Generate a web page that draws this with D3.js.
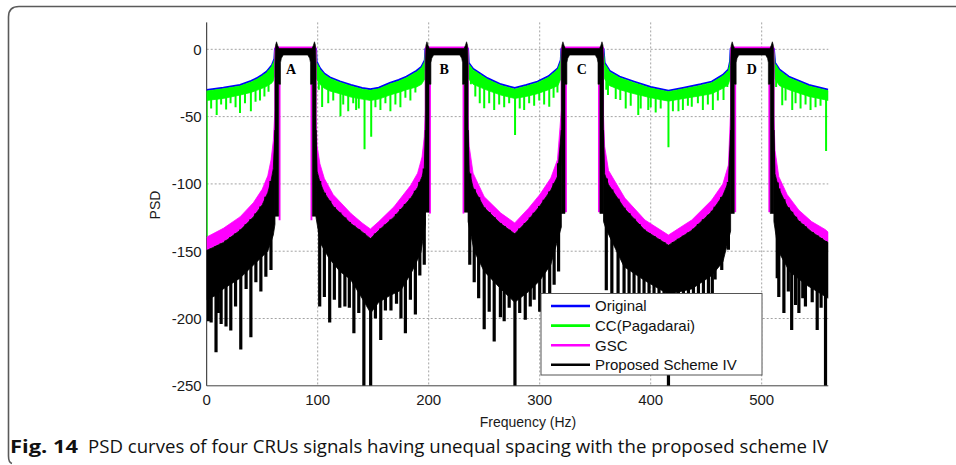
<!DOCTYPE html>
<html><head><meta charset="utf-8">
<script src="https://cdn.jsdelivr.net/npm/d3@7"></script>
<style>body{margin:0;background:#fff}svg{display:block}</style>
</head><body><svg id="c" width="956" height="465"></svg>
<script>
// ---------------- DATA ----------------
const xTicks=[0,100,200,300,400,500];
const yTicks=[0,-50,-100,-150,-200,-250];
const seriesNames=["Original","CC(Pagadarai)","GSC","Proposed Scheme IV"];
const bandLabels=["A","B","C","D"];
const bandLow=[61.5,197,319.5,472];
const bandHigh=[98.5,235.5,357.5,511];
const labelFreq=[76,214,338,491];
// Original (blue) upper envelope [Hz, dB]
const origEnv=[[0,-30.2],[15,-28.5],[30,-26.5],[40,-23.5],[45,-21.5],[50,-19],[54,-16.6],[58.8,-11.7],[61,-7],[61.5,0],[98.5,0],[99,-9],[102,-14],[106,-18],[111,-20.8],[120,-23.8],[130,-26.5],[140,-28.8],[147.5,-29.7],[155,-28.5],[165,-25],[173,-22.8],[180,-20.3],[189,-16],[193.5,-13],[196.5,-8],[197,0],[235.5,0],[236,-10],[240,-14.5],[253,-21.5],[265,-26],[277.5,-28.8],[288,-26.5],[298,-24],[308,-20],[316.4,-14],[319,-8],[319.5,0],[357.5,0],[358.5,-10],[363,-16],[372,-20.3],[385,-24],[400,-28],[416,-30.7],[430,-28.5],[445,-26],[455,-24],[465,-19],[470,-15],[471.5,-9],[472,0],[511,0],[512,-10],[516,-15],[524.4,-20.3],[542.5,-26.5],[560,-30]];
// CC (green) dense band: upper and lower edges, plus spikes
const ccUpper=[[0,-31],[15,-29.3],[30,-27.3],[40,-24.3],[45,-22.3],[50,-19.8],[54,-17.4],[58.8,-12.5],[61,-7.8],[61.5,-1],[98.5,-1],[99,-9.8],[102,-14.8],[106,-18.8],[111,-21.6],[120,-24.6],[130,-27.3],[140,-29.6],[147.5,-30.5],[155,-29.3],[165,-25.8],[173,-23.6],[180,-21.1],[189,-16.8],[193.5,-13.8],[196.5,-8.8],[197,-1],[235.5,-1],[236,-10.8],[240,-15.3],[253,-22.3],[265,-26.8],[277.5,-29.6],[288,-27.3],[298,-24.8],[308,-20.8],[316.4,-14.8],[319,-8.8],[319.5,-1],[357.5,-1],[358.5,-10.8],[363,-16.8],[372,-21.1],[385,-24.8],[400,-28.8],[416,-31.5],[430,-29.3],[445,-26.8],[455,-24.8],[465,-19.8],[470,-15.8],[471.5,-9.8],[472,-1],[511,-1],[512,-10.8],[516,-15.8],[524.4,-21.1],[542.5,-27.3],[560,-30.8]];
const ccLower=[[0,-38],[15,-36.5],[30,-34],[40,-32],[45,-30.5],[50,-29],[54,-27.5],[58.8,-25],[61,-20],[61.5,-3],[98.5,-3],[99,-22],[102,-26],[106,-29],[111,-31],[120,-33],[130,-35.5],[140,-37],[147.5,-38],[155,-37],[165,-34],[173,-32],[180,-30],[189,-28],[193.5,-26],[196.5,-22],[197,-3],[235.5,-3],[236,-22],[240,-26],[253,-30.5],[265,-34],[277.5,-36.5],[288,-35],[298,-33],[308,-30],[316.4,-27],[319,-22],[319.5,-3],[357.5,-3],[358.5,-22],[363,-27],[372,-30],[385,-33],[400,-36],[416,-38.5],[430,-36.5],[445,-34.5],[455,-33],[465,-29],[470,-26],[471.5,-22],[472,-3],[511,-3],[512,-22],[516,-27],[524.4,-30],[542.5,-35],[560,-38]];
const ccSpikes=[[0,-140],[4,-44],[9,-48.8],[13,-41],[17.5,-44.7],[21.5,-40],[26,-43],[30,-47.4],[34.5,-40],[39.8,-46],[44,-39],[48,-38],[52,-35],[55.7,-31.5],[59.5,-24],
[101,-30],[104,-42.8],[109.5,-40],[114,-38],[120.5,-49.7],[123,-41],[127.5,-46],[132,-40],[134.6,-45],[137,-44],[142.2,-74.3],[148.2,-65],[152,-43],[156.5,-45],[161,-40],[165.5,-46],[170,-41],[174.5,-43],[179,-36],[183.5,-38],[188,-32],[192.5,-26],
[238,-26],[242,-35],[246,-40],[250,-43.7],[254.5,-40],[259,-45],[263.5,-41],[268,-43],[272.5,-40],[277.8,-63.7],[282,-44],[286,-45],[290.5,-40],[295,-42],[299.6,-38],[304,-41],[308.6,-42.6],[312.5,-36],[316,-32],
[360,-30],[361.5,-34],[368.5,-37],[372.6,-37.6],[377.5,-44],[382,-42],[388.8,-48.8],[391,-44],[397.8,-45],[400,-43],[404.5,-47],[409,-44],[416,-72.8],[420,-46],[425,-46],[429,-45],[433.5,-42],[437,-42.6],[442.5,-40],[447,-45],[451.5,-41],[456,-45],[460.5,-38],[465.6,-37.6],[469,-28],
[513,-28],[518.5,-41.6],[521.5,-38],[527.5,-45],[530.5,-40],[535,-44],[539.5,-41],[544,-45],[548.5,-43],[553,-42],[558,-75.5]];
// GSC (magenta) band: upper and lower edges
const gscUpper=[[0,-139.5],[15,-133],[30,-124.5],[42,-114],[50,-104],[55,-94],[58,-82],[60,-68],[61.5,-45],[61.5,1.8],[98.5,1.8],[98.5,-50],[99.5,-72],[102,-85],[106,-96],[114,-108],[130,-122],[140,-129],[147.5,-133.5],[155,-128],[168.7,-117],[183.8,-101],[190,-92],[194,-80],[196,-65],[197,-45],[197,1.8],[235.5,1.8],[235.5,-50],[236.5,-72],[240,-92],[250,-109.5],[265,-121.7],[277.5,-129],[290,-118],[300,-108],[310,-95.6],[316,-82],[319.5,-45],[319.5,1.8],[357.5,1.8],[357.5,-50],[358.5,-72],[362,-90],[376.7,-110.5],[394.8,-126.8],[416,-138],[437,-126.8],[455,-112],[465,-100],[470,-86],[472,-45],[472,1.8],[511,1.8],[511,-50],[512,-75],[515.4,-94.6],[523,-108],[533.5,-119.5],[545,-128],[557.5,-134],[560,-136]];
const gscLower=[[0,-149],[15,-143],[30,-134],[42,-124],[50,-115],[55,-106],[58,-97],[60,-88],[61.5,-80],[61.5,-0.2],[98.5,-0.2],[98.5,-85],[99.5,-90],[102,-98],[106,-106],[114,-116],[130,-129],[140,-135],[147.5,-140],[155,-134],[168.7,-124],[183.8,-110],[190,-102],[194,-94],[196,-88],[197,-82],[197,-0.2],[235.5,-0.2],[235.5,-85],[236.5,-90],[240,-102],[250,-117],[265,-129],[277.5,-136.5],[290,-126],[300,-116],[310,-104],[316,-94],[319.5,-85],[319.5,-0.2],[357.5,-0.2],[357.5,-85],[358.5,-92],[362,-100],[376.7,-118],[394.8,-134],[416,-145],[437,-134],[455,-120],[465,-108],[470,-98],[472,-85],[472,-0.2],[511,-0.2],[511,-85],[512,-92],[515.4,-103],[523,-116],[533.5,-127],[545,-135],[557.5,-142],[560,-143]];
const gscWallLow=[-127,-122,-121,-121];
// Proposed (black): out-of-band dense region (null = in-band break), spikes, in-band shape
const pmUpper=[[0,-149.5],[15,-143.5],[30,-134.5],[42,-124.5],[50,-115.5],[55,-106.5],[58,-97.5],[60,-88.5],[61.5,-60],[80,null],[98.5,-60],[99.5,-90.5],[102,-98.5],[106,-106.5],[114,-116.5],[130,-129.5],[140,-135.5],[147.5,-140.5],[155,-134.5],[168.7,-124.5],[183.8,-110.5],[190,-102.5],[194,-94.5],[196,-88.5],[197,-60],[216,null],[235.5,-60],[236.5,-90.5],[240,-102.5],[250,-117.5],[265,-129.5],[277.5,-137],[290,-126.5],[300,-116.5],[310,-104.5],[316,-94.5],[319.5,-60],[338,null],[357.5,-60],[358.5,-92.5],[362,-100.5],[376.7,-118.5],[394.8,-134.5],[416,-145.5],[437,-134.5],[455,-120.5],[465,-108.5],[470,-98.5],[472,-60],[491,null],[511,-60],[512,-92.5],[515.4,-103.5],[523,-116.5],[533.5,-127.5],[545,-135.5],[557.5,-142.5],[560,-143.5]];
const pmLower=[[0,-186],[8,-183],[15,-178],[30,-170],[45,-158],[55,-150],[60,-138],[61.5,-130],[80,null],[98.5,-125],[102.4,-144],[110,-155],[120,-165],[129.6,-171],[140,-185],[147.7,-196],[155,-188],[165,-183],[175,-179],[185,-165],[193,-151],[197,-130],[216,null],[235.5,-128],[241,-150],[250,-165],[265,-178],[277.5,-188],[290,-180],[300,-172],[310,-160],[319.5,-132],[338,null],[357.5,-128],[360,-134],[376,-161.5],[395,-172],[416,-182],[437,-178],[455,-168],[465,-158],[472,-135],[491,null],[511,-128],[515,-150],[525,-165],[540,-175],[550,-180],[560,-185]];
const pmSpikes=[[1.5,-202],[4,-203],[8.4,-225],[10.5,-196],[13,-204],[17.4,-206],[21.7,-209],[26,-191],[30.7,-223],[35.5,-178],[39.8,-214],[44.3,-173],[48.8,-180],[53.3,-169],[57.9,-164],
[101.8,-191],[106,-184],[110.8,-203],[115,-186],[119.9,-192],[124.5,-191],[128.5,-192],[132.6,-211],[137,-196],[141.6,-250],[147.7,-250],[152,-200],[156.8,-216],[161,-194],[166,-194],[171,-189],[175,-200],[179,-211],[183.5,-186],[188,-197],[192,-168],[196,-160],
[237,-160],[241,-173],[245,-185],[250,-208],[254.5,-195],[259,-217],[264.6,-199],[268,-202],[272.5,-192],[277.7,-250],[282,-196],[287,-201],[291.5,-191],[295,-186],[300,-195],[304,-185],[309,-190],[313,-175],[317,-165],
[360,-179],[365,-191],[370.6,-206],[376,-198],[380.5,-195],[385,-200],[389.5,-210],[394,-198],[398.5,-205],[403,-200],[407.5,-212],[412,-203],[416,-250],[420.5,-205],[425,-198],[429.5,-210],[434,-200],[438.5,-205],[443,-196],[447.5,-200],[452,-190],[455.5,-186],[458,-171],[464,-164],[470,-149],
[514,-170],[515.4,-184],[520,-196],[524,-180],[527,-208.5],[530.5,-190],[533.5,-196],[537,-185],[539.4,-191],[545.5,-188],[550,-208.5],[553.5,-192],[557.5,-250]];
const pmEar=[5.6,5.6,5.6,5.6];
const pmFlat=[0.6,0.6,0.6,0.6];
const pmArch=[-4.3,-4.3,-4.3,-4.3];
const pmWallLow=[-124,-121,-122,-122];
const captionBold="Fig. 14";
const captionText="PSD curves of four CRUs signals having unequal spacing with the proposed scheme IV";

// ---------------- DRAW ----------------
const svg=d3.select("#c");
const xs=d3.scaleLinear().domain([0,560]).range([206.7,828.3]);
const ys=d3.scaleLinear().domain([-250,20]).range([385.8,22.4]);
const line=d3.line().x(d=>xs(d[0])).y(d=>ys(d[1]));
const font="'Liberation Sans',Arial,Helvetica,sans-serif";

// figure border
svg.append("path").attr("d","M956,6.5 H19 Q8.5,6.5 8.5,17 V456 Q8.5,462.5 12,463.5")
  .attr("fill","none").attr("stroke","#5a5a5a").attr("stroke-width",1.6);

svg.append("defs").append("clipPath").attr("id","pc").append("rect")
  .attr("x",xs(0)).attr("y",ys(20)).attr("width",xs(560)-xs(0)).attr("height",ys(-250)-ys(20));

// grid
const grid=svg.append("g").attr("stroke","#8c8c8c").attr("stroke-width",0.8).attr("stroke-dasharray","2,2");
xTicks.filter(t=>t>0).forEach(t=>grid.append("line").attr("x1",xs(t)).attr("x2",xs(t)).attr("y1",ys(20)).attr("y2",ys(-250)));
yTicks.filter(t=>t>-250).forEach(t=>grid.append("line").attr("x1",xs(0)).attr("x2",xs(560)).attr("y1",ys(t)).attr("y2",ys(t)));

// axes lines
svg.append("line").attr("x1",xs(0)).attr("x2",xs(0)).attr("y1",ys(20)).attr("y2",ys(-250)).attr("stroke","#222").attr("stroke-width",1);
svg.append("line").attr("x1",xs(0)).attr("x2",xs(560)).attr("y1",ys(-250)).attr("y2",ys(-250)).attr("stroke","#444").attr("stroke-width",1);

// tick labels
yTicks.forEach(t=>svg.append("text").attr("x",xs(0)-5).attr("y",ys(t)).attr("dy","0.36em")
  .attr("text-anchor","end").attr("font-family",font).attr("font-size",15).attr("fill","#1a1a1a").text(t));
xTicks.forEach(t=>svg.append("text").attr("x",xs(t)).attr("y",405).attr("text-anchor","middle")
  .attr("font-family",font).attr("font-size",15).attr("fill","#1a1a1a").text(t));
svg.append("text").attr("x",528).attr("y",427).attr("text-anchor","middle").attr("font-family",font)
  .attr("font-size",14).attr("fill","#1a1a1a").text("Frequency (Hz)");
svg.append("text").attr("transform","translate(160,205) rotate(-90)").attr("text-anchor","middle")
  .attr("font-family",font).attr("font-size",14).attr("fill","#1a1a1a").text("PSD");

const plot=svg.append("g").attr("clip-path","url(#pc)");

function segments(arr){const out=[];let cur=[];arr.forEach(d=>{if(d[1]==null){if(cur.length)out.push(cur);cur=[];}else cur.push(d);});if(cur.length)out.push(cur);return out;}
function polyPath(up,lo){return line(up)+"L"+line(lo.slice().reverse()).slice(1)+"Z";}
function envAt(arr,f){for(let i=0;i<arr.length-1;i++){const a=arr[i],b=arr[i+1];if(a[1]==null||b[1]==null)continue;
  if(f>=a[0]&&f<=b[0]){if(b[0]===a[0])return Math.min(a[1],b[1]);return a[1]+(b[1]-a[1])*(f-a[0])/(b[0]-a[0]);}}return null;}

// Original (blue)
plot.append("path").attr("d",line(origEnv)).attr("fill","none").attr("stroke","#0000ff").attr("stroke-width",2);
// CC (green)
plot.append("path").attr("d",polyPath(ccUpper,ccLower)).attr("fill","#00ff00").attr("stroke","#00ff00").attr("stroke-width",0.8);
plot.append("g").selectAll("line").data(ccSpikes).join("line")
  .attr("x1",d=>xs(d[0])).attr("x2",d=>xs(d[0])).attr("y1",d=>ys(envAt(ccUpper,d[0])))
  .attr("y2",d=>ys(d[1])).attr("stroke","#00ff00").attr("stroke-width",2);
// GSC (magenta)
plot.append("path").attr("d",polyPath(gscUpper,gscLower)).attr("fill","#ff00ff").attr("stroke","#ff00ff").attr("stroke-width",0.8);
bandLow.forEach((L,i)=>{const R=bandHigh[i];
  [[L+3.3,L+5],[R-5,R-3.3]].forEach(w=>plot.append("rect").attr("x",xs(w[0])).attr("width",xs(w[1])-xs(w[0]))
    .attr("y",ys(-26)).attr("height",ys(gscWallLow[i])-ys(-26)).attr("fill","#ff00ff"));
});
// Proposed (black)
const upS=segments(pmUpper),loS=segments(pmLower);
upS.forEach((u,k)=>plot.append("path").attr("d",polyPath(u,loS[k])).attr("fill","#000").attr("stroke","#000").attr("stroke-width",0.8));
plot.append("g").selectAll("line").data(pmSpikes).join("line")
  .attr("x1",d=>xs(d[0])).attr("x2",d=>xs(d[0])).attr("y1",d=>ys(envAt(pmUpper,d[0])))
  .attr("y2",d=>ys(d[1])).attr("stroke","#000").attr("stroke-width",3.2);
bandLow.forEach((L,i)=>{const R=bandHigh[i],e=pmEar[i],f=pmFlat[i],a=pmArch[i],w=pmWallLow[i];
  const shape=[[L,w],[L,-12],[L+0.5,3],[L+1.4,e],[L+2.4,3],[L+3.6,f],[R-3.6,f],[R-2.4,3],[R-1.4,e],[R-0.5,3],[R,-12],[R,w],
    [R-3.3,w],[R-3.3,-26],[R-5,-26],[R-5,-10],[R-5.8,-6.6],[R-7.5,a],[L+7.5,a],[L+5.8,-6.6],[L+5,-10],[L+5,-26],[L+3.3,-26],[L+3.3,w]];
  plot.append("path").attr("d",line(shape)+"Z").attr("fill","#000").attr("stroke","#000").attr("stroke-width",0.6);
  svg.append("text").attr("x",xs(labelFreq[i])).attr("y",ys(-18.6)).attr("text-anchor","middle")
    .attr("font-family","'Liberation Serif','Times New Roman',serif").attr("font-weight","bold").attr("font-size",14).text(bandLabels[i]);
});

// legend
const colors=["#0000ff","#00ff00","#ff00ff","#000000"];
const lg=svg.append("g");
lg.append("rect").attr("x",541).attr("y",293.5).attr("width",221).attr("height",81.5).attr("fill","#fff").attr("stroke","#555").attr("stroke-width",1);
seriesNames.forEach((n,i)=>{const y=306+i*19.6;
  lg.append("line").attr("x1",551).attr("x2",590).attr("y1",y).attr("y2",y).attr("stroke",colors[i]).attr("stroke-width",2.6);
  lg.append("text").attr("x",595).attr("y",y).attr("dy","0.36em").attr("font-family",font).attr("font-size",15).attr("fill","#111").text(n);
});

// caption
svg.append("text").attr("x",10).attr("y",453).attr("font-family","'Open Sans','Noto Sans',sans-serif").attr("font-weight","bold")
  .attr("font-size",18).attr("textLength",68).attr("lengthAdjust","spacingAndGlyphs").attr("fill","#111").text(captionBold);
svg.append("text").attr("x",88).attr("y",453).attr("font-family","'Open Sans','Noto Sans',sans-serif")
  .attr("font-size",18).attr("textLength",740).attr("lengthAdjust","spacingAndGlyphs").attr("fill","#111").text(captionText);
</script></body></html>
